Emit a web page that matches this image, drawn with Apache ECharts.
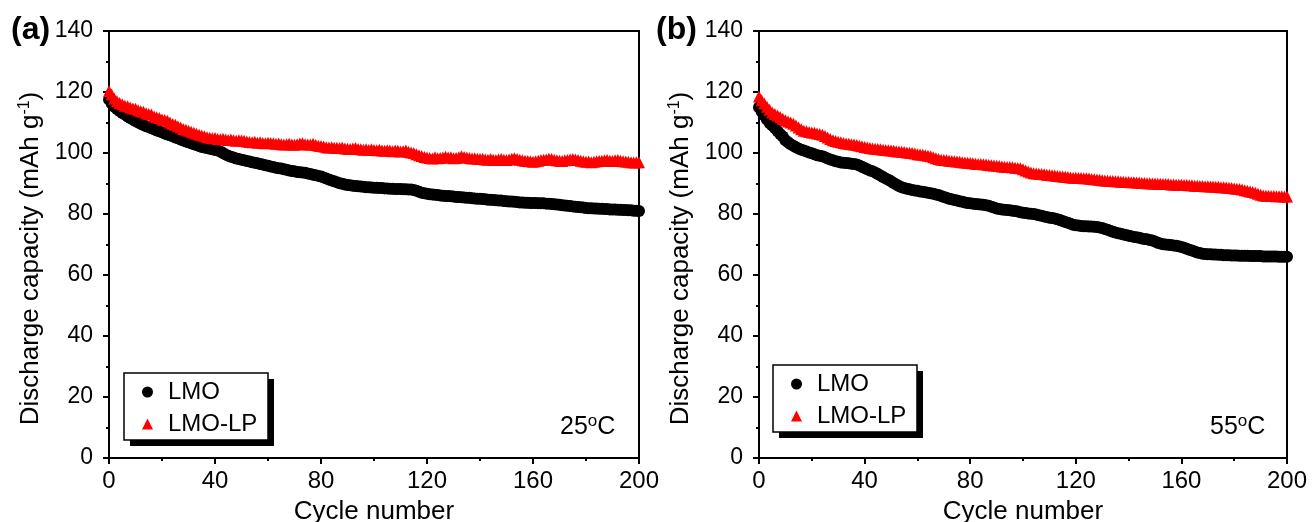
<!DOCTYPE html>
<html><head><meta charset="utf-8">
<script src="https://cdn.jsdelivr.net/npm/echarts@6/dist/echarts.min.js"></script>
<style>html,body{margin:0;padding:0;background:#fff}#c{width:1315px;height:522px}</style>
</head><body><div id="c"></div>
<script>
// Discharge capacity (mAh g^-1) per cycle, cycle number = array index (0..200)
const lmo25 = [
117.5,116.2,115.2,114.4,113.8,113.1,112.6,112.0,111.5,111.0,
110.5,110.0,109.6,109.2,108.8,108.5,108.1,107.8,107.4,107.1,
106.8,106.4,106.1,105.8,105.5,105.1,104.8,104.4,104.1,103.8,
103.5,103.2,102.9,102.6,102.3,102.0,101.8,101.6,101.4,101.2,
101.0,100.8,100.5,100.0,99.5,99.1,98.8,98.5,98.2,98.0,
97.8,97.6,97.4,97.2,97.0,96.8,96.6,96.4,96.2,96.0,
95.8,95.6,95.4,95.2,95.0,94.9,94.7,94.5,94.3,94.1,
94.0,93.8,93.7,93.6,93.5,93.3,93.1,92.9,92.7,92.5,
92.3,92.0,91.6,91.3,91.0,90.7,90.4,90.1,89.9,89.7,
89.5,89.4,89.3,89.2,89.1,89.0,88.9,88.8,88.8,88.7,
88.6,88.6,88.5,88.5,88.4,88.4,88.3,88.3,88.2,88.2,
88.2,88.1,88.1,88.0,88.0,87.9,87.6,87.3,87.0,86.8,
86.6,86.5,86.4,86.3,86.2,86.1,86.0,85.9,85.9,85.8,
85.7,85.6,85.6,85.5,85.4,85.3,85.3,85.2,85.1,85.0,
85.0,84.9,84.8,84.7,84.7,84.6,84.5,84.4,84.4,84.3,
84.2,84.1,84.1,84.0,83.9,83.8,83.8,83.7,83.7,83.6,
83.6,83.6,83.5,83.5,83.5,83.4,83.4,83.3,83.2,83.1,
83.0,82.9,82.8,82.7,82.6,82.5,82.4,82.3,82.2,82.1,
82.0,81.9,81.9,81.8,81.8,81.7,81.7,81.6,81.6,81.5,
81.5,81.5,81.4,81.4,81.3,81.3,81.2,81.2,81.1,81.1,
81.0];
const lmoLp25 = [
120.3,119.2,117.8,117.0,116.4,116.0,115.5,115.3,114.9,114.6,
114.5,114.0,113.7,113.5,113.0,112.8,112.6,112.0,111.7,111.5,
111.0,110.8,110.6,110.0,109.5,109.3,108.8,108.4,107.9,107.6,
107.3,107.0,106.6,106.3,106.0,105.7,105.5,105.2,105.0,104.8,
104.9,104.6,104.5,104.7,104.4,104.3,104.4,104.2,104.0,104.2,
104.1,104.0,103.8,103.6,103.5,103.7,103.4,103.5,103.3,103.2,
103.4,103.3,103.2,103.0,103.1,102.9,102.8,102.9,103.0,102.8,
102.7,102.9,103.1,103.2,102.9,102.8,102.8,103.0,102.6,102.4,
102.3,102.1,101.9,101.8,101.9,101.7,101.7,101.6,101.8,101.5,
101.4,101.3,101.5,101.6,101.3,101.2,101.1,101.2,101.0,101.2,
101.0,100.9,101.1,100.8,100.7,100.9,100.8,100.6,100.8,100.7,
100.5,100.6,100.8,100.4,100.2,100.0,99.6,99.3,99.0,98.7,
98.5,98.4,98.2,98.6,98.3,98.4,98.5,98.8,98.5,98.6,
98.3,98.4,98.6,98.9,98.7,98.5,98.4,98.2,98.3,98.1,
98.0,98.1,97.9,97.8,98.0,97.8,97.7,97.9,98.0,97.8,
97.7,97.9,98.1,98.3,98.0,97.8,97.6,97.5,97.4,97.3,
97.1,97.3,97.5,97.7,97.8,97.9,98.1,98.0,97.8,97.6,
97.5,97.4,97.6,97.7,97.9,98.0,97.9,97.7,97.5,97.3,
97.1,97.2,97.0,97.1,97.3,97.4,97.5,97.6,97.7,97.5,
97.4,97.6,97.7,97.5,97.3,97.2,97.1,97.0,96.9,97.0,
97.0];
const lmo55 = [
115.0,113.5,112.3,111.0,109.8,109.0,108.2,107.2,106.2,105.4,
104.2,103.5,102.9,102.4,101.9,101.5,101.1,100.8,100.5,100.2,
99.9,99.6,99.3,99.1,98.9,98.6,98.2,97.9,97.6,97.3,
97.1,96.9,96.8,96.7,96.6,96.5,96.4,96.2,95.9,95.5,
95.1,94.7,94.3,94.0,93.6,93.1,92.6,92.1,91.6,91.2,
90.7,90.2,89.7,89.2,88.8,88.5,88.3,88.1,87.9,87.7,
87.6,87.4,87.3,87.1,87.0,86.8,86.6,86.4,86.2,85.9,
85.6,85.3,85.0,84.8,84.6,84.4,84.2,84.0,83.8,83.6,
83.5,83.4,83.3,83.2,83.1,83.0,82.9,82.7,82.4,82.1,
81.8,81.6,81.5,81.4,81.3,81.2,81.1,81.0,80.8,80.6,
80.4,80.3,80.2,80.1,80.0,79.8,79.6,79.4,79.2,79.0,
78.8,78.7,78.5,78.3,78.0,77.7,77.4,77.1,76.8,76.5,
76.3,76.2,76.1,76.0,76.0,75.9,75.9,75.8,75.7,75.6,
75.4,75.1,74.8,74.5,74.2,73.9,73.7,73.5,73.3,73.1,
72.9,72.7,72.5,72.4,72.2,72.0,71.8,71.7,71.5,71.3,
71.0,70.6,70.3,70.1,70.0,69.9,69.8,69.7,69.6,69.4,
69.2,68.9,68.6,68.3,68.0,67.7,67.4,67.2,67.0,66.9,
66.8,66.8,66.7,66.7,66.6,66.6,66.5,66.5,66.5,66.4,
66.4,66.4,66.3,66.3,66.3,66.3,66.2,66.2,66.2,66.2,
66.2,66.1,66.1,66.1,66.1,66.1,66.1,66.0,66.0,66.0,
66.0];
const lmoLp55 = [
118.5,117.3,116.2,115.2,114.2,113.3,112.8,112.3,111.8,111.2,
110.7,110.3,110.0,109.6,109.0,108.4,107.8,107.3,107.1,106.9,
106.7,106.6,106.4,106.2,106.0,105.6,105.1,104.6,104.2,103.9,
103.7,103.5,103.3,103.1,103.0,102.9,102.8,102.6,102.4,102.2,
102.0,101.8,101.6,101.5,101.4,101.3,101.2,101.1,101.0,100.9,
100.8,100.7,100.6,100.5,100.4,100.3,100.2,100.1,100.0,99.8,
99.6,99.5,99.4,99.3,99.1,98.9,98.6,98.3,98.0,97.8,
97.7,97.6,97.5,97.4,97.3,97.2,97.1,97.0,96.9,96.8,
96.7,96.6,96.5,96.4,96.4,96.3,96.2,96.1,96.0,95.9,
95.8,95.7,95.6,95.5,95.4,95.4,95.3,95.2,95.1,95.0,
94.7,94.3,93.9,93.6,93.4,93.3,93.2,93.1,93.0,92.9,
92.8,92.7,92.6,92.5,92.4,92.3,92.2,92.1,92.0,91.9,
91.9,91.8,91.8,91.7,91.7,91.6,91.5,91.4,91.3,91.2,
91.1,91.0,90.9,90.8,90.8,90.7,90.7,90.6,90.6,90.5,
90.5,90.4,90.4,90.3,90.3,90.2,90.2,90.1,90.1,90.0,
90.0,89.9,89.9,89.8,89.8,89.8,89.7,89.7,89.6,89.6,
89.6,89.5,89.5,89.4,89.4,89.3,89.3,89.2,89.2,89.1,
89.1,89.0,89.0,88.9,88.9,88.8,88.8,88.7,88.6,88.5,
88.4,88.3,88.2,88.0,87.8,87.6,87.4,87.2,87.0,86.6,
86.3,86.1,86.0,86.0,85.9,85.9,85.8,85.8,85.8,85.7,
85.7];
const xTicks = {min: 0, max: 200, interval: 40};
const yTicks = {min: 0, max: 140, interval: 20};
const seriesNames = ['LMO', 'LMO-LP'];
const panelLabels = ['(a)', '(b)'];
const tempLabels = ['25', '55'];

const FONT = '"Liberation Sans", Arial, sans-serif';
const toPairs = arr => arr.map((v, i) => [i, v]);

const grids = [
  {left: 109, top: 31, width: 530, height: 427},
  {left: 759, top: 31, width: 528, height: 427}
];

function xAxis(i) {
  return {
    type: 'value', gridIndex: i, min: xTicks.min, max: xTicks.max, interval: xTicks.interval,
    name: 'Cycle number', nameLocation: 'middle', nameGap: 41,
    nameTextStyle: {fontFamily: FONT, fontSize: 26, color: '#000'},
    axisLine: {show: true, lineStyle: {color: '#000', width: 2}},
    axisTick: {show: true, inside: false, length: 6, lineStyle: {color: '#000', width: 2}},
    minorTick: {show: true, splitNumber: 2, length: 3, lineStyle: {color: '#000', width: 2}},
    axisLabel: {fontFamily: FONT, fontSize: 24, color: '#000', margin: 11},
    splitLine: {show: false}
  };
}
function yAxis(i) {
  return {
    type: 'value', gridIndex: i, min: yTicks.min, max: yTicks.max, interval: yTicks.interval,
    name: 'Discharge capacity (mAh g{sup|-1})', nameLocation: 'middle', nameGap: 64, nameRotate: 90,
    nameTextStyle: {fontFamily: FONT, fontSize: 26, color: '#000', padding: [0, 28, 0, 0],
      rich: {sup: {fontFamily: FONT, fontSize: 16, color: '#000', padding: [0, 0, 12, 0]}}},
    axisLine: {show: true, lineStyle: {color: '#000', width: 2}},
    axisTick: {show: true, inside: false, length: 6, lineStyle: {color: '#000', width: 2}},
    minorTick: {show: true, splitNumber: 2, length: 3, lineStyle: {color: '#000', width: 2}},
    axisLabel: {fontFamily: FONT, fontSize: 23, color: '#000', margin: 16},
    splitLine: {show: false}
  };
}

const datasets = [[lmo25, lmoLp25], [lmo55, lmoLp55]];
const series = [];
datasets.forEach((pair, g) => {
  series.push({
    name: seriesNames[0], type: 'scatter', xAxisIndex: g, yAxisIndex: g,
    symbol: 'circle', symbolSize: 12, itemStyle: {color: '#000', opacity: 1},
    data: toPairs(pair[0]), silent: true, animation: false
  });
  series.push({
    name: seriesNames[1], type: 'scatter', xAxisIndex: g, yAxisIndex: g,
    symbol: 'triangle', symbolSize: 12, itemStyle: {color: '#ff0000', opacity: 1},
    data: toPairs(pair[1]), silent: true, animation: false
  });
});

// legend boxes (frame + drop shadow)
const legendBoxes = [{x: 124, y: 373}, {x: 773, y: 365}];
const boxW = 144, boxH = 67;
const legends = legendBoxes.map(p => ({
  left: p.x, top: p.y, orient: 'vertical', data: seriesNames, z: 10,
  backgroundColor: 'transparent', borderWidth: 0,
  padding: [6, 10, 6, 18], itemGap: 6, itemWidth: 11, itemHeight: 11,
  textStyle: {fontFamily: FONT, fontSize: 24, color: '#000', lineHeight: 26, padding: [0, 0, 0, 10]},
  selectedMode: false
}));
const boxGraphics = [];
legendBoxes.forEach(p => {
  boxGraphics.push({type: 'rect', z: 5, shape: {x: p.x + 6, y: p.y + 6, width: boxW, height: boxH},
    style: {fill: '#000'}});
  boxGraphics.push({type: 'rect', z: 6, shape: {x: p.x, y: p.y, width: boxW, height: boxH},
    style: {fill: '#fff', stroke: '#000', lineWidth: 1.5}});
});

const option = {
  animation: false,
  backgroundColor: '#fff',
  grid: grids.map(g => Object.assign({show: true, borderColor: '#000', borderWidth: 2,
    backgroundColor: 'transparent', containLabel: false, outerBoundsMode: 'none'}, g)),
  xAxis: [xAxis(0), xAxis(1)],
  yAxis: [yAxis(0), yAxis(1)],
  legend: legends,
  series: series,
  graphic: boxGraphics.concat([
    {type: 'text', left: 11, top: 14, style: {text: panelLabels[0], font: 'bold 32px ' + FONT, fill: '#000'}},
    {type: 'text', left: 656, top: 14, style: {text: panelLabels[1], font: 'bold 32px ' + FONT, fill: '#000'}},
    {type: 'text', left: 560, top: 413, style: {text: tempLabels[0] + '{sup|o}C', font: '25px ' + FONT, fill: '#000',
      rich: {sup: {fontSize: 17, fontFamily: FONT, fill: '#000', padding: [0, 0, 11, 0]}}}},
    {type: 'text', left: 1210, top: 413, style: {text: tempLabels[1] + '{sup|o}C', font: '25px ' + FONT, fill: '#000',
      rich: {sup: {fontSize: 17, fontFamily: FONT, fill: '#000', padding: [0, 0, 11, 0]}}}}
  ])
};
const chart = echarts.init(document.getElementById('c'), null, {renderer: 'canvas'});
chart.setOption(option);
</script></body></html>
